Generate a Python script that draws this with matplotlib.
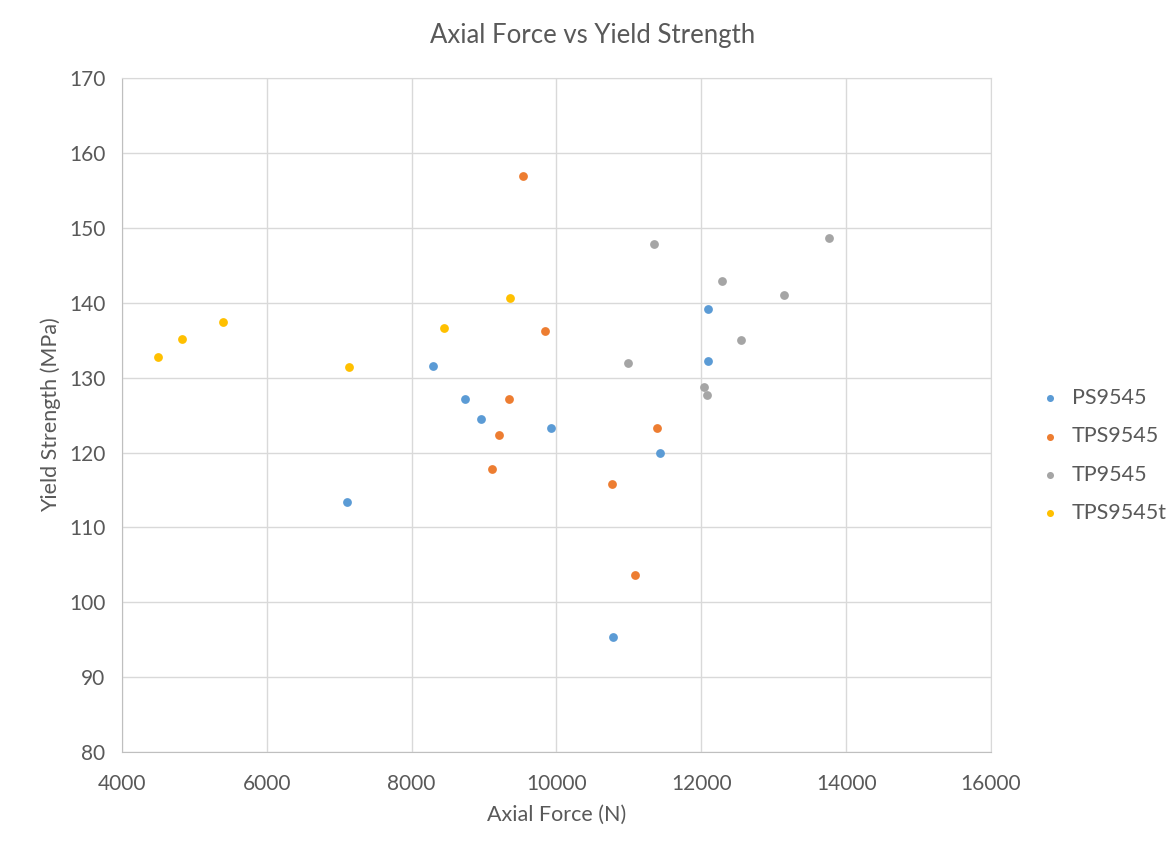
import matplotlib
matplotlib.use('Agg')
import matplotlib.pyplot as plt

# Axial force (N) and yield strength (MPa) per specimen group
ps_force = [8294, 8736, 8957, 9924, 7107, 10780, 11430, 12093, 12093]
ps_yield = [131.5, 127.1, 124.5, 123.3, 113.4, 95.3, 120.0, 139.2, 132.2]

tps_force = [9538, 9841, 9345, 9206, 9110, 10767, 11388, 11085]
tps_yield = [157.0, 136.3, 127.1, 122.3, 117.8, 115.8, 123.3, 103.6]

tp_force = [11347, 12286, 13764, 13142, 12548, 10988, 12037, 12079]
tp_yield = [147.8, 142.9, 148.7, 141.0, 135.0, 131.9, 128.8, 127.7]

tpst_force = [4497, 4829, 5395, 7135, 8447, 9359]
tpst_yield = [132.8, 135.2, 137.5, 131.4, 136.6, 140.6]

series = [
    ('PS9545', ps_force, ps_yield, '#5B9BD5'),
    ('TPS9545', tps_force, tps_yield, '#ED7D31'),
    ('TP9545', tp_force, tp_yield, '#A5A5A5'),
    ('TPS9545t', tpst_force, tpst_yield, '#FFC000'),
]

plt.rcParams['font.family'] = ['Lato', 'DejaVu Sans']
text_color = '#595959'
grid_color = '#D9D9D9'

fig = plt.figure(figsize=(11.73, 8.49), dpi=100)
ax = fig.add_axes([0.104, 0.1143, 0.7408, 0.7935])

for name, xs, ys, col in series:
    ax.scatter(xs, ys, s=40, color=col, label=name, zorder=3, linewidths=0)

ax.set_xlim(4000, 16000)
ax.set_ylim(80, 170)
ax.set_xticks(range(4000, 16001, 2000))
ax.set_yticks(range(80, 171, 10))
ax.grid(True, color=grid_color, linewidth=1)
ax.set_axisbelow(True)
ax.tick_params(length=0, labelsize=15, colors=text_color)
ax.tick_params(axis='x', pad=16)
ax.tick_params(axis='y', pad=12)

for side in ['top', 'right']:
    ax.spines[side].set_color(grid_color)
for side in ['left', 'bottom']:
    ax.spines[side].set_color('#BFBFBF')

# chart title is centred on the whole figure, not the plot area
fig.text(0.505, 0.958, 'Axial Force vs Yield Strength', fontsize=18.5,
         color=text_color, ha='center', va='center')
ax.set_xlabel('Axial Force (N)', fontsize=15.5, color=text_color, labelpad=8)
ax.set_ylabel('Yield Strength (MPa)', fontsize=15.5, color=text_color, labelpad=6)

leg = ax.legend(loc='center left', bbox_to_anchor=(1.021, 0.44), frameon=False,
                fontsize=15.5, handletextpad=0.0, labelspacing=0.85,
                markerscale=0.8)
for t in leg.get_texts():
    t.set_color(text_color)

fig.savefig('out.png', dpi=100)
